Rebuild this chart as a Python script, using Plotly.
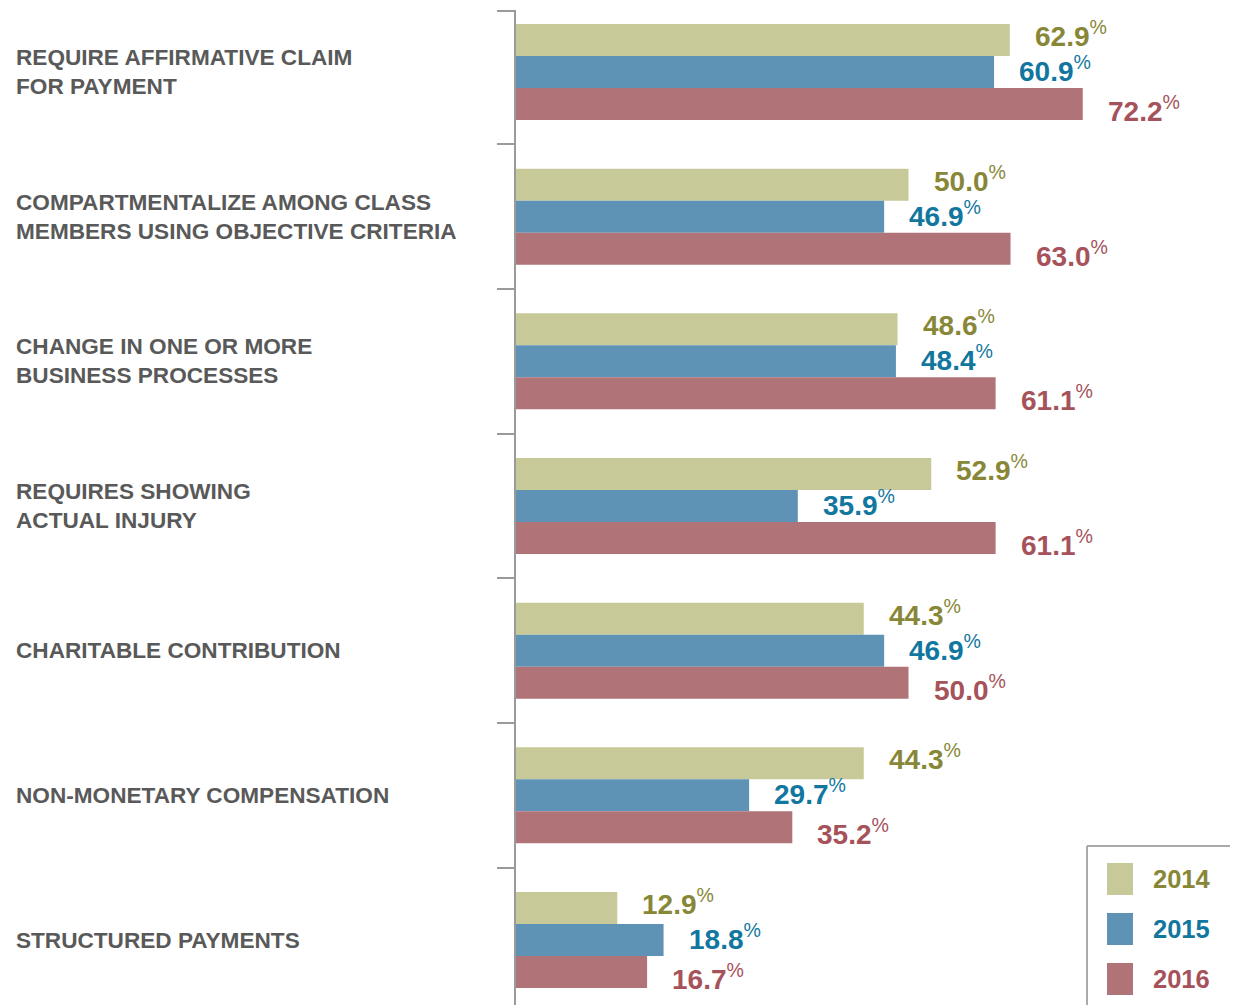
import plotly.graph_objects as go

categories = [
    "REQUIRE AFFIRMATIVE CLAIM<br>FOR PAYMENT",
    "COMPARTMENTALIZE AMONG CLASS<br>MEMBERS USING OBJECTIVE CRITERIA",
    "CHANGE IN ONE OR MORE<br>BUSINESS PROCESSES",
    "REQUIRES SHOWING<br>ACTUAL INJURY",
    "CHARITABLE CONTRIBUTION",
    "NON-MONETARY COMPENSATION",
    "STRUCTURED PAYMENTS",
]
years = ["2014", "2015", "2016"]
values_2014 = [62.9, 50.0, 48.6, 52.9, 44.3, 44.3, 12.9]
values_2015 = [60.9, 46.9, 48.4, 35.9, 46.9, 29.7, 18.8]
values_2016 = [72.2, 63.0, 61.1, 61.1, 50.0, 35.2, 16.7]

series = [values_2014, values_2015, values_2016]
bar_colors = ["#c7c999", "#5e93b6", "#b07378"]
text_colors = ["#878737", "#12779f", "#a6525b"]
label_nudge = [-6, -3, 5]  # extra px downward for value labels per series

# page has an 8px body margin, so the figure is drawn 8px in from the corner
PAGE = 8
W, H = 1238 - PAGE, 1005 - PAGE
left, top = 516 - PAGE, 10 - PAGE
plot_w = W - left
plot_h = H - top
bar_px = 32
ypos = list(range(len(categories)))


def px_x(x):
    # target picture x -> paper coord
    return (x - PAGE - left) / plot_w


def px_y(y):
    # target picture y -> paper coord
    return (H - (y - PAGE)) / plot_h


fig = go.Figure()

for k, (name, vals) in enumerate(zip(years, series)):
    fig.add_trace(go.Bar(
        x=vals,
        y=ypos,
        orientation="h",
        name=name,
        marker=dict(color=bar_colors[k], line=dict(width=0)),
        showlegend=False,
        hoverinfo="x+name",
    ))

annotations = []

# value labels
for k, vals in enumerate(series):
    for i, v in enumerate(vals):
        annotations.append(dict(
            x=v, y=i, xref="x", yref="y",
            text=f"{v:.1f}<sup><span style='font-weight:normal'>%</span></sup>",
            showarrow=False, xanchor="left", yanchor="middle",
            xshift=23, yshift=-(k - 1) * bar_px - label_nudge[k],
            font=dict(family="Liberation Sans, Arial", size=28, color=text_colors[k], weight="bold"),
        ))

# category labels
for i, cat in enumerate(categories):
    annotations.append(dict(
        x=px_x(14), y=i, xref="paper", yref="y",
        text=cat, showarrow=False, xanchor="left", yanchor="middle", align="left",
        font=dict(family="Liberation Sans, Arial", size=22.6, color="#595959", weight="bold"),
    ))

# legend box
shapes = [
    dict(type="line", xref="paper", yref="paper",
         x0=px_x(1087), x1=1.0, y0=px_y(846), y1=px_y(846),
         line=dict(color="#aaaaaa", width=2)),
    dict(type="line", xref="paper", yref="paper",
         x0=px_x(1087), x1=px_x(1087), y0=0, y1=px_y(846),
         line=dict(color="#aaaaaa", width=2)),
]
for k, name in enumerate(years):
    y_top = 863 + k * 50
    shapes.append(dict(
        type="rect", xref="paper", yref="paper",
        x0=px_x(1107), x1=px_x(1133),
        y0=px_y(y_top + 32), y1=px_y(y_top),
        fillcolor=bar_colors[k], line=dict(width=0),
    ))
    annotations.append(dict(
        x=px_x(1151), y=px_y(y_top + 16),
        xref="paper", yref="paper", text=name, showarrow=False,
        xanchor="left", yanchor="middle",
        font=dict(family="Liberation Sans, Arial", size=25.5, color=text_colors[k], weight="bold"),
    ))

band = 144.67
first_center = 72 - PAGE
y_top_val = (top - first_center) / band
y_bot_val = (H - first_center) / band

fig.update_layout(
    width=W, height=H,
    margin=dict(l=left, r=0, t=top, b=0),
    barmode="group",
    bargap=1 - 3 * bar_px / band,
    bargroupgap=0,
    plot_bgcolor="white",
    paper_bgcolor="white",
    xaxis=dict(visible=False, range=[0, plot_w / 7.85]),
    yaxis=dict(
        range=[y_bot_val, y_top_val],
        tickvals=[y_top_val + 0.005] + [i + 0.5 for i in range(len(categories) - 1)],
        showticklabels=False,
        ticks="outside", ticklen=17, tickwidth=2, tickcolor="#9a9a9a",
        showline=True, linecolor="#9a9a9a", linewidth=2,
        showgrid=False, zeroline=False,
    ),
    annotations=annotations,
    shapes=shapes,
)

fig.write_html("out.html")
